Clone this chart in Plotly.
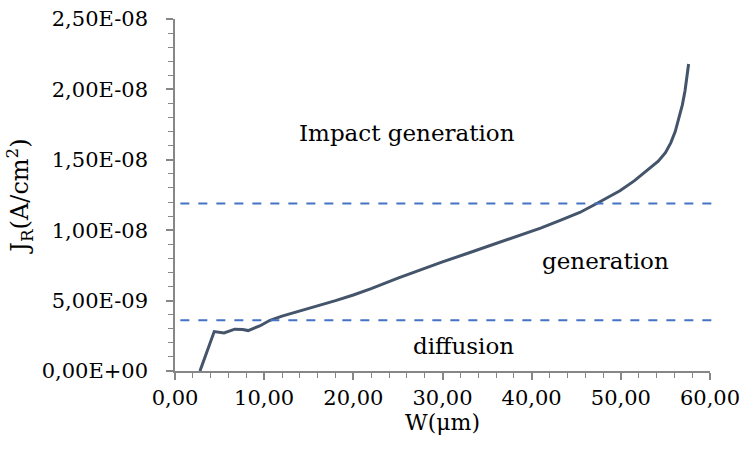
import plotly.graph_objects as go

# Data
w_um = [2.8, 4.4, 5.5, 6.7, 7.6, 8.2, 9.5, 10.65, 12.0, 14.0, 15.5, 18.0, 20.0,
        22.0, 25.0, 27.5, 30.0, 33.0, 35.5, 38.0, 41.0, 43.2, 45.4, 47.3, 49.9,
        51.5, 53.0, 54.2, 55.0, 55.6, 56.1, 56.5, 56.9, 57.2, 57.4, 57.6]
j_r = [0.0, 2.8e-9, 2.7e-9, 2.97e-9, 2.95e-9, 2.87e-9, 3.2e-9, 3.6e-9, 3.9e-9,
       4.25e-9, 4.55e-9, 5.0e-9, 5.4e-9, 5.85e-9, 6.6e-9, 7.2e-9, 7.75e-9,
       8.4e-9, 8.95e-9, 9.5e-9, 1.015e-8, 1.07e-8, 1.126e-8, 1.19e-8, 1.28e-8,
       1.35e-8, 1.425e-8, 1.49e-8, 1.55e-8, 1.62e-8, 1.70e-8, 1.79e-8, 1.89e-8,
       1.99e-8, 2.08e-8, 2.18e-8]

thresholds = [1.19e-8, 3.6e-9]

x_tickvals = [0, 10, 20, 30, 40, 50, 60]
x_ticktext = ["0,00", "10,00", "20,00", "30,00", "40,00", "50,00", "60,00"]
y_tickvals = [0, 5e-9, 1e-8, 1.5e-8, 2e-8, 2.5e-8]
y_ticktext = ["0,00E+00", "5,00E-09", "1,00E-08", "1,50E-08", "2,00E-08", "2,50E-08"]

labels = ["Impact generation", "generation", "diffusion"]
label_x = [26.0, 48.3, 32.3]
label_y = [1.69e-8, 7.8e-9, 1.8e-9]

font = "DejaVu Serif"
axis_col = "#868686"

fig = go.Figure()
fig.add_trace(go.Scatter(x=w_um, y=j_r, mode="lines",
                         line=dict(color="#44546A", width=3),
                         showlegend=False))

for t in thresholds:
    fig.add_shape(type="line", xref="paper", yref="y", x0=0.01, x1=1.015,
                  y0=t, y1=t, line=dict(color="#4472C4", width=2, dash="dash"))

for txt, lx, ly in zip(labels, label_x, label_y):
    fig.add_annotation(x=lx, y=ly, text=txt, showarrow=False,
                       font=dict(family=font, size=23, color="#000000"))

fig.update_layout(
    width=740, height=457,
    margin=dict(l=175, r=30, t=19, b=86, autoexpand=False),
    paper_bgcolor="white", plot_bgcolor="white",
    font=dict(family=font, color="#000000", size=21),
)
fig.update_xaxes(range=[0, 60], tickvals=x_tickvals, ticktext=x_ticktext,
                 automargin=False,
                 showgrid=False, zeroline=False, showline=True,
                 linecolor=axis_col, linewidth=1.5, ticks="outside",
                 tickcolor=axis_col, ticklen=7, tickwidth=1.5,
                 ticklabeloverflow="allow",
                 tickfont=dict(size=21, family=font, color="#000000"),
                 minor=dict(ticks="outside", dtick=2, ticklen=5,
                            tickcolor=axis_col, tickwidth=1),
                 title=dict(text="W(μm)",
                            font=dict(size=22, family=font, color="#000000"),
                            standoff=6))
fig.update_yaxes(range=[0, 2.5e-8], tickvals=y_tickvals, ticktext=y_ticktext,
                 automargin=False,
                 showgrid=False, zeroline=False, showline=True,
                 linecolor=axis_col, linewidth=1.5, ticks="outside",
                 tickcolor=axis_col, ticklen=7, tickwidth=1.5,
                 ticklabelstandoff=14,
                 tickfont=dict(size=21, family=font, color="#000000"),
                 minor=dict(ticks="outside", dtick=1e-9, tick0=0, ticklen=5,
                            tickcolor=axis_col, tickwidth=1),
                 title=dict(text="J<sub>R</sub>(A/cm<sup>2</sup>)",
                            font=dict(size=24, family=font, color="#000000"),
                            standoff=6))

fig.write_html("out.html")
